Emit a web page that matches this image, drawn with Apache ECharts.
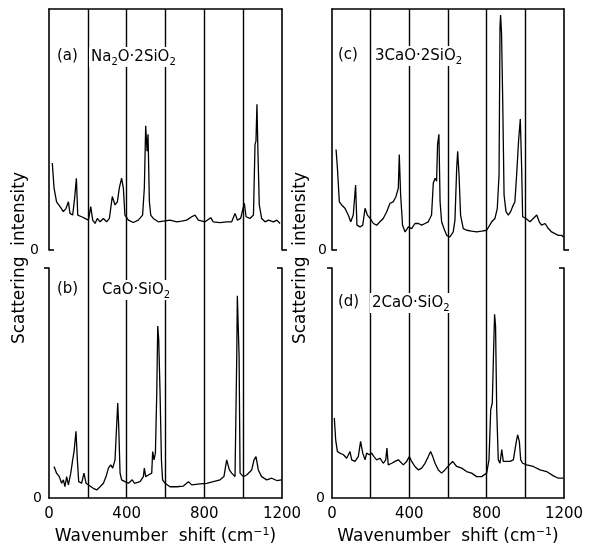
<!DOCTYPE html>
<html>
<head>
<meta charset="utf-8">
<script src="https://cdn.jsdelivr.net/npm/echarts@6/dist/echarts.min.js"></script>
<style>
  html, body { margin: 0; padding: 0; background: #fff; }
  #main { width: 591px; height: 557px; }
</style>
</head>
<body>
<div id="main"></div>
<script>
// wavenumber (cm-1) and relative intensity
var waveA = [17,26,39,57,74,88,100,108,122,132,141,148,168,185,203,215,225,237,249,263,280,297,311,326,340,352,362,374,383,391,409,434,460,482,491,498,505,510,517,524,537,563,589,623,658,683,709,735,752,769,804,833,846,881,915,941,958,970,987,1006,1015,1035,1053,1061,1066,1071,1076,1083,1095,1113,1130,1156,1173,1190];
var intA  = [0.361,0.257,0.20,0.18,0.159,0.173,0.20,0.152,0.145,0.215,0.298,0.145,0.138,0.131,0.124,0.18,0.124,0.110,0.131,0.117,0.131,0.117,0.131,0.222,0.187,0.20,0.257,0.298,0.257,0.145,0.124,0.114,0.124,0.145,0.257,0.515,0.41,0.48,0.20,0.145,0.131,0.117,0.12,0.124,0.117,0.12,0.124,0.138,0.145,0.124,0.117,0.134,0.117,0.114,0.117,0.117,0.152,0.124,0.131,0.194,0.138,0.131,0.145,0.438,0.452,0.605,0.41,0.187,0.131,0.117,0.124,0.117,0.124,0.110];

var waveB = [26,39,53,65,74,82,91,100,112,122,129,139,146,153,168,180,191,211,228,246,263,280,294,306,318,328,340,349,354,359,366,374,391,409,429,440,469,486,491,498,512,529,534,541,548,555,560,565,572,579,585,598,623,658,692,718,735,778,812,846,881,901,915,929,941,958,967,970,975,979,984,1001,1018,1044,1056,1066,1078,1095,1121,1147,1173,1198];
var intB  = [0.137,0.108,0.093,0.064,0.079,0.049,0.093,0.057,0.108,0.166,0.202,0.29,0.166,0.071,0.064,0.108,0.064,0.052,0.042,0.035,0.049,0.064,0.093,0.13,0.144,0.13,0.166,0.166,0.413,0.312,0.108,0.079,0.071,0.064,0.079,0.064,0.071,0.093,0.13,0.093,0.1,0.108,0.202,0.166,0.195,0.457,0.748,0.69,0.457,0.166,0.079,0.064,0.049,0.049,0.052,0.071,0.057,0.061,0.064,0.071,0.079,0.093,0.166,0.122,0.108,0.093,0.617,0.879,0.879,0.617,0.108,0.093,0.1,0.122,0.166,0.18,0.122,0.093,0.079,0.086,0.076,0.079];

var waveC = [21,28,38,50,67,84,97,110,122,129,145,159,171,183,197,214,231,248,265,283,300,317,331,343,348,355,365,378,395,412,429,447,464,481,498,515,524,533,541,546,553,559,567,579,593,610,627,636,645,650,657,665,679,697,722,748,774,800,826,843,855,864,869,872,877,883,890,900,912,924,934,946,955,965,974,981,986,1003,1024,1041,1059,1072,1084,1102,1119,1136,1153,1171,1188,1196];
var intC  = [0.417,0.34,0.20,0.187,0.173,0.145,0.117,0.145,0.27,0.103,0.096,0.103,0.173,0.145,0.131,0.11,0.103,0.117,0.131,0.159,0.194,0.20,0.222,0.257,0.396,0.229,0.103,0.075,0.096,0.089,0.11,0.11,0.103,0.11,0.117,0.145,0.278,0.298,0.285,0.438,0.48,0.20,0.117,0.089,0.061,0.054,0.075,0.124,0.34,0.41,0.312,0.145,0.089,0.082,0.078,0.075,0.078,0.082,0.117,0.131,0.173,0.312,0.926,0.975,0.898,0.619,0.229,0.159,0.145,0.159,0.18,0.20,0.312,0.452,0.543,0.34,0.138,0.131,0.117,0.131,0.145,0.117,0.103,0.11,0.089,0.075,0.068,0.061,0.061,0.054];

var waveD = [12,19,28,41,59,76,86,93,102,119,136,148,159,171,179,193,205,217,231,248,265,278,284,291,309,326,343,352,369,386,400,412,429,447,464,481,498,510,521,533,550,567,584,607,624,645,671,696,722,748,774,800,812,821,829,836,841,846,852,860,869,878,886,903,921,938,952,960,969,976,986,1007,1041,1076,1110,1145,1171,1196];
var intD  = [0.348,0.253,0.202,0.195,0.188,0.173,0.166,0.202,0.166,0.159,0.18,0.246,0.195,0.166,0.195,0.188,0.195,0.18,0.166,0.173,0.151,0.166,0.217,0.144,0.151,0.159,0.166,0.173,0.144,0.159,0.18,0.159,0.137,0.122,0.13,0.151,0.18,0.202,0.18,0.151,0.122,0.108,0.122,0.144,0.159,0.137,0.13,0.115,0.108,0.093,0.093,0.108,0.166,0.384,0.413,0.646,0.799,0.748,0.384,0.166,0.151,0.21,0.159,0.159,0.159,0.166,0.239,0.275,0.246,0.166,0.151,0.144,0.137,0.122,0.115,0.096,0.086,0.086];

var xTicks = [0, 400, 800, 1200];
var gridLines = [200, 400, 600, 800, 1000];

var FONT = '"DejaVu Sans", sans-serif';

function zip(w, v) {
  var out = [];
  for (var i = 0; i < w.length; i++) out.push([w[i], v[i]]);
  return out;
}

var chart = echarts.init(document.getElementById('main'), null, { renderer: 'canvas' });

var panels = [
  { left: 49,  top: 9,   width: 233, height: 241, upper: true,  zeroMargin: 10 },
  { left: 49,  top: 268, width: 233, height: 230, upper: false, zeroMargin: 7 },
  { left: 332, top: 9,   width: 232, height: 241, upper: true,  zeroMargin: 5 },
  { left: 332, top: 268, width: 232, height: 230, upper: false, zeroMargin: 7 }
];

var grids = [], xAxes = [], yAxes = [], yAxesR = [];
panels.forEach(function (p, i) {
  grids.push({ left: p.left, top: p.top, width: p.width, height: p.height });
  xAxes.push({
    type: 'value', gridIndex: i, min: 0, max: 1200, interval: 400,
    position: p.upper ? 'top' : 'bottom',
    axisLine: { show: true, onZero: false, lineStyle: { color: '#000', width: 1.6 } },
    axisTick: { show: false },
    splitLine: { show: false },
    axisLabel: {
      show: !p.upper, color: '#000', fontSize: 15, fontFamily: FONT, margin: 9,
      customValues: xTicks,
      formatter: function (v) { return String(v); }
    },
    name: p.upper ? '' : 'Wavenumber  shift (cm{sup|−1})',
    nameLocation: 'middle', nameGap: 29,
    nameTextStyle: {
      color: '#000', fontSize: 17, fontFamily: FONT, lineHeight: 20,
      rich: { sup: { fontSize: 11, fontFamily: FONT, verticalAlign: 'top', lineHeight: 10, color: '#000' } }
    }
  });
  yAxes.push({
    type: 'value', gridIndex: i, min: 0, max: 1, interval: 1, position: 'left',
    axisLine: { show: true, onZero: false, lineStyle: { color: '#000', width: 1.6 } },
    axisTick: { show: true, inside: p.upper, length: 5, customValues: [p.upper ? 0 : 1], lineStyle: { color: '#000', width: 1.6 } },
    splitLine: { show: false },
    axisLabel: { color: '#000', fontSize: 14, fontFamily: FONT, margin: p.zeroMargin, customValues: [0] }
  });
  yAxesR.push({
    type: 'value', gridIndex: i, min: 0, max: 1, interval: 1, position: 'right',
    axisLine: { show: true, onZero: false, lineStyle: { color: '#000', width: 1.6 } },
    axisTick: { show: true, inside: !p.upper, length: 5, customValues: [p.upper ? 0 : 1], lineStyle: { color: '#000', width: 1.6 } },
    splitLine: { show: false },
    axisLabel: { show: false }
  });
});

// background grids that carry the vertical lines through both panels of a column
[[49, 233], [332, 232]].forEach(function (c) {
  grids.push({ left: c[0], top: 9, width: c[1], height: 489 });
  xAxes.push({
    type: 'value', gridIndex: grids.length - 1, min: 0, max: 1200, interval: 200,
    axisLine: { show: false }, axisTick: { show: false }, axisLabel: { show: false },
    splitLine: { show: true, showMinLine: false, showMaxLine: false, lineStyle: { color: '#000', width: 1.4 } }
  });
  yAxes.push({ type: 'value', gridIndex: grids.length - 1, min: 0, max: 1, show: false });
});

var allY = yAxes.slice(0, 4).concat(yAxesR).concat(yAxes.slice(4));

var dataSets = [zip(waveA, intA), zip(waveB, intB), zip(waveC, intC), zip(waveD, intD)];
var series = dataSets.map(function (d, i) {
  return {
    type: 'line', xAxisIndex: i, yAxisIndex: i, data: d,
    showSymbol: false, silent: true, z: 3,
    lineStyle: { color: '#000', width: 1.3 }
  };
});
series.push({ type: 'line', xAxisIndex: 4, yAxisIndex: 8, data: [] });
series.push({ type: 'line', xAxisIndex: 5, yAxisIndex: 9, data: [] });

var rich = {
  n: { fontSize: 15, fontFamily: FONT, lineHeight: 20, verticalAlign: 'middle', fill: '#000' },
  s: { fontSize: 10, fontFamily: FONT, lineHeight: 10, verticalAlign: 'bottom', fill: '#000' }
};
function tag(x, y, txt) {
  return { type: 'text', left: x, top: y, z: 10, style: { text: txt, font: '15px ' + FONT, fill: '#000' } };
}
function formula(x, y, txt) {
  return {
    type: 'text', left: x, top: y, z: 10,
    style: { text: txt, rich: rich, backgroundColor: '#fff', padding: [0, 2, 0, 2] }
  };
}
function yTitle(x) {
  return {
    type: 'text', x: x, y: 258, rotation: Math.PI / 2, z: 10,
    style: { text: 'Scattering  intensity', font: '17px ' + FONT, fill: '#000', align: 'center', verticalAlign: 'middle' }
  };
}

chart.setOption({
  animation: false,
  backgroundColor: '#fff',
  grid: grids,
  xAxis: xAxes,
  yAxis: allY,
  series: series,
  graphic: [
    tag(57, 49, '(a)'), formula(89, 47, '{n|Na}{s|2}{n|O·2SiO}{s|2}'),
    tag(57, 282, '(b)'), formula(100, 280, '{n|CaO·SiO}{s|2}'),
    tag(338, 48, '(c)'), formula(373, 46, '{n|3CaO·2SiO}{s|2}'),
    tag(338, 295, '(d)'), formula(370, 293, '{n|2CaO·SiO}{s|2}'),
    yTitle(20), yTitle(301)
  ]
});
</script>
</body>
</html>
